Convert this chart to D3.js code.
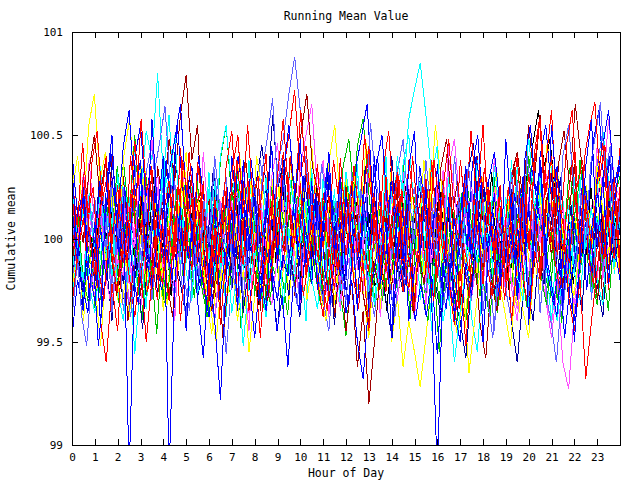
<!DOCTYPE html>
<html>
<head>
<meta charset="utf-8">
<script src="https://cdn.jsdelivr.net/npm/d3@7"></script>
<style>
  body { margin: 0; background: #fff; }
  text { font-family: "DejaVu Sans Mono", monospace; fill: #000; }
</style>
</head>
<body>
<div id="chart"></div>
<script>
// values are read off the picture as hundredths above/below the 100 baseline,
// spread evenly from hour 0 to hour 24 (about one every 15 minutes)
const BASE = 100;
const hourTicks = d3.range(0, 24);
const yTicks = [99, 99.5, 100, 100.5, 101];

const s01 = [22,-8,31,5,-17,14,40,-3,26,-12,9,47,18,-6,33,-20,11,28,-9,44,2,-15,37,13,-24,20,-4,35,52,8,-13,25,-7,16,41,-10,30,58,19,-2,27,-18,12,36,-5,21,-14,39,6,28,-9,17,45,-1,23,-16,10,32,-11,38,14,-7,29,3,-19,24,48,11,-4,34,-13,19,55,7,-8,26,-21,15,40,-2,31,12,-17,36,62,9,-6,22,43,-12,18,-3,27,46,4,-10,25];
const s02 = [-12,15,-28,-4,-35,8,-20,12,-31,-2,19,-15,-40,3,-22,10,-33,-9,24,-18,-6,-29,14,-38,-1,21,-13,-26,7,-44,-10,16,-23,5,-32,11,-17,-37,2,26,-8,-21,13,-30,-3,18,-25,-47,-11,9,-19,4,-34,-7,20,-14,-27,6,-39,0,15,-22,-5,-31,12,-16,-42,1,23,-9,-28,10,-18,-36,5,-24,14,-11,-33,-2,19,-15,-29,8,-41,-6,17,-20,3,-26,11,-13,-35,4,22];
const s03 = [35,-10,22,-30,8,-42,25,50,-5,18,-115,-15,30,-8,58,12,40,-115,-22,15,-45,6,-30,-58,-12,-40,-78,-20,14,-35,38,-6,24,-28,10,45,-15,30,55,20,48,-12,28,-25,5,42,-8,30,-18,12,-35,22,-5,40,-22,8,-48,15,-10,35,52,-8,25,-30,-115,-18,20,-40,10,35,-12,28,-50,-5,22,-20,48,12,-28,30,-42,5,38,-15,55,20,-32,8,-50,-10,35,58,-5,30,-22,15,40];
const s04 = [10,-15,28,-2,-30,14,-20,30,-8,22,-35,5,-18,26,-10,34,-25,8,-40,12,-5,31,-16,42,2,-22,18,-33,6,24,-12,-45,9,-26,20,-4,36,-14,27,-7,-32,15,-20,33,-1,-38,11,-24,29,-9,17,-28,38,-6,22,-17,4,35,-12,26,-30,7,-21,19,-3,33,-15,-36,10,-8,28,-24,16,-11,40,-2,-27,13,-19,21,-34,8,-12,-30,-48,-22,-60,-73,-35,-15,18,-8,32,-20,12,-5,25];
const s05 = [-18,10,-30,22,-5,35,-12,18,-25,30,8,45,20,52,38,80,30,60,10,-14,25,-28,6,-10,32,-20,14,-38,2,22,-15,38,-8,20,-32,12,-4,36,-18,28,-9,-40,16,-22,30,-6,24,-35,8,-16,33,-3,-26,18,-11,40,-20,6,27,-13,15,-30,4,-45,12,-8,30,-24,20,-2,-38,-55,-18,10,-28,22,-5,38,-15,14,-33,6,25,-10,-40,3,19,-22,30,-8,18,-27,11,-4,28,-17,9];
const s06 = [15,-10,32,4,-22,20,-8,40,12,30,-5,18,-28,8,-14,35,15,48,28,60,79,38,55,-2,20,-30,5,-18,28,-8,22,-25,10,-35,14,-12,30,-6,18,-28,6,35,-10,25,-20,4,-38,-12,-45,-20,-62,-35,-80,-50,-15,10,-25,32,-8,20,-30,14,-12,38,6,28,-18,10,-32,22,-5,40,-14,16,-26,8,-10,30,42,18,55,28,60,12,-8,20,-25,10,36,-5,24,-18,8,-30,15,-3,22];
const s07 = [-28,5,-40,-8,-20,-52,-12,15,-30,8,-38,-15,12,-25,22,-5,-35,6,-18,20,42,-8,25,-20,-35,4,-22,18,-10,-40,-15,-55,-28,10,-18,30,-5,20,-30,2,28,-12,45,10,-20,15,-32,-5,24,-14,8,-26,-48,-10,-35,12,-50,-28,-62,-40,-55,-72,-48,-20,8,-15,20,-30,-8,-38,5,-18,30,-2,22,-25,6,-12,28,-35,-48,-10,-25,18,-5,32,-18,10,-40,-12,20,-28,4,30,-8,14,-20];
const s08 = [8,-15,30,-2,20,-28,12,-36,5,25,-10,38,-20,14,-30,4,22,-8,28,-16,-40,10,-25,18,-6,40,12,30,-12,22,-30,6,28,-14,20,-5,35,48,70,88,62,35,12,-18,-30,8,-12,25,-20,32,-8,18,-38,5,-22,28,-10,35,2,-25,15,-6,38,10,-18,26,-30,12,-14,30,-2,20,-35,-8,-45,6,-18,32,-4,22,-28,12,-36,-5,18,-10,40,55,22,-3,25,-30,8,-15,28,-6,14];
const s09 = [-20,6,-35,18,-8,28,-12,-40,2,-22,20,-5,32,-15,10,-28,14,-6,42,16,-10,25,-30,4,-18,30,-8,22,-25,8,-36,-12,20,-4,28,-20,-45,-8,-28,12,-15,35,-2,18,-32,-10,-42,6,-20,26,-6,14,-30,2,20,-12,40,8,-18,24,-35,-8,16,-22,36,-4,12,-28,-40,-58,-20,-5,22,-12,30,-25,-2,-40,-60,-28,4,-14,25,-8,32,-18,6,-30,10,-12,24,-2,-22,-38,5,-16,12];
const s10 = [12,-8,-22,5,-12,25,-2,15,-20,-30,4,-15,22,-6,30,-18,8,-28,12,-5,28,-10,20,-16,6,-26,14,-8,24,-2,-20,10,-32,-6,18,-12,32,-4,15,-22,8,-14,26,2,20,-10,-28,6,-16,22,-4,12,-24,-8,-35,5,-18,30,-6,14,-20,4,-12,26,-2,18,-15,-30,2,-10,24,-6,32,-14,8,-26,12,-4,30,45,62,35,48,18,-5,14,-22,8,-15,25,-4,12,-20,6,18];
const s11 = [-32,-8,10,-25,-4,-40,-60,-22,-45,5,-18,-38,-12,-50,-20,15,-10,-30,8,-40,-5,20,-12,28,-22,5,-42,-8,15,-28,10,-35,-15,-48,-5,18,-12,32,50,72,30,45,8,-20,-38,-5,-25,20,-8,12,-30,-12,-45,10,-18,30,-5,18,-26,-8,-35,12,-15,38,2,22,-20,-42,-15,-52,-10,14,-22,25,-8,-30,4,-40,-12,20,-5,35,58,22,40,-8,10,-28,-45,-20,-68,-40,-15,12,-25,30,-10];
const s12 = [18,-5,32,-12,8,-30,-2,22,-18,38,10,50,5,30,-20,8,-30,25,-5,40,12,-15,28,-25,2,-12,38,55,18,32,-8,20,-28,12,-6,25,-15,-35,-8,-22,15,-2,32,-10,18,-25,4,-12,30,8,45,58,22,-5,15,-26,10,-4,36,-14,20,-8,-30,6,-18,26,-4,14,-28,-40,-10,-22,18,-6,30,-12,8,-25,12,-2,40,16,28,-14,5,-30,-8,22,-4,38,10,-18,-32,4,-12,20,30];
const s13 = [42,10,25,-15,-30,5,-20,28,8,45,62,20,38,-8,-25,5,-10,32,48,65,20,35,-5,-22,-38,-10,12,-15,40,8,22,-20,-48,-18,-35,10,-8,28,-12,20,-30,-5,-22,18,-4,32,-10,8,-36,-20,-50,-68,-30,-15,5,-8,30,-12,15,-40,-15,-2,20,-8,35,2,-20,-35,-50,-12,-28,12,-5,28,42,15,-10,20,-30,-2,15,-12,40,55,22,35,-10,-25,-40,-12,8,-18,30,45,62,25,40];
const s14 = [-10,12,-25,38,5,-18,20,-32,-5,15,-22,10,-35,-2,-28,12,-15,25,-8,42,15,28,-12,-28,-5,12,-20,24,-2,-30,6,-36,-10,20,-5,30,46,12,25,-15,-30,10,-12,22,-4,36,-8,-30,-5,18,-15,25,-20,12,-38,-8,20,-14,32,6,-20,12,-32,-4,22,-8,35,48,15,30,-12,8,-25,14,-10,25,-6,-20,-34,-8,20,-12,15,-28,-42,-15,-30,5,-18,28,-2,16,-20,10,-8,26,20];
const s15 = [28,-5,15,-22,-36,-8,14,-18,32,-2,20,-25,-8,-34,10,-15,36,22,50,8,-12,25,-28,6,-10,28,-15,-2,-36,-15,-52,-20,12,-8,30,-10,18,-34,5,-20,22,-4,34,-12,15,-30,10,-14,22,-5,36,-18,4,-32,-12,15,-2,40,20,58,72,85,60,30,45,-10,-30,10,-15,25,-8,38,-2,18,-30,-10,20,-12,35,8,50,15,30,-6,-25,-40,-15,5,-18,30,-5,15,-20,-32,10,-14,18];
const s16 = [-14,15,-2,32,50,20,38,-8,-28,5,-40,-15,10,-6,28,-8,15,-22,-38,2,-15,32,-4,15,-20,-35,-10,-48,-20,5,-12,40,12,28,-15,-30,-4,18,-8,38,20,52,70,35,22,-5,-30,4,-15,25,-8,12,-26,-42,-12,-25,16,-2,30,-10,15,-36,-8,-22,12,-5,35,48,12,28,-12,-28,-8,-42,-58,-20,-35,8,-12,36,10,-5,-30,12,-18,22,-6,36,52,25,65,40,14,-5,-30,5,-15,22,8];
const s17 = [22,40,10,55,70,28,42,-5,-20,-32,-8,22,-10,35,-5,18,-18,-32,8,-15,38,10,-4,20,-30,-46,-12,-25,15,-5,40,8,28,-14,-28,5,-12,26,-8,40,-2,22,-30,-12,10,-6,38,55,15,30,-10,-25,-5,-40,-15,18,-6,32,-8,15,-22,-35,2,-18,34,-4,16,-20,-32,-48,-25,-65,-40,-15,8,-10,32,-5,18,-22,-36,6,-18,20,-2,48,12,30,-12,-26,10,-8,26,-4,40,8,22,-15,-2];
const s18 = [-38,-10,-25,18,-2,30,8,-22,10,-35,-5,20,-8,32,46,12,25,-15,-28,5,-12,25,-10,10,-25,-40,-12,-56,-20,8,-10,24,-4,38,12,-16,-30,8,-12,24,-4,38,2,-15,-30,-45,-8,-25,14,-6,28,-8,-22,-38,-5,20,-10,32,48,12,25,-12,-26,10,-6,26,-10,40,8,-16,-30,5,-12,24,-5,12,-25,-40,-5,-20,18,-2,32,-5,16,-20,-35,-8,5,-15,22,-2,36,52,15,28,-10];
const s19 = [8,-12,-26,5,-10,28,-4,40,12,-16,5,-30,-12,-44,-8,-25,15,-5,28,-8,-22,-38,-5,-20,18,-2,32,-5,15,-20,-4,-18,14,-2,28,45,20,60,25,38,-8,-22,-38,-5,-18,20,-4,34,-2,18,-15,-32,8,-18,35,-5,18,-18,-32,-48,-12,-26,12,-8,28,-6,14,-22,-38,-8,-20,18,-5,32,46,10,25,-14,-28,5,-12,24,-10,10,-25,-40,-8,-22,16,-4,30,-6,16,-20,-35,6,-18,34,-2,20,-12,5];
const s20 = [30,5,46,12,25,-15,-30,4,-12,25,-8,40,15,58,22,35,-8,-22,5,-10,28,-6,42,12,22,-15,-28,5,-12,25,-6,38,12,55,20,30,-10,-25,-5,12,-8,40,22,62,30,15,-5,-20,-35,5,-15,20,-5,35,10,50,25,8,-10,-26,2,-15,24,-8,40,12,25,-15,-30,6,-12,22,-6,38,12,52,20,30,-12,-28,4,-10,25,-8,12,-22,-38,-6,-20,18,-2,32,10,46,62,25,38,-8,-22,4,-10,28,12,44];
const s21 = [-5,12,-20,-32,-8,-18,20,-4,35,10,-4,18,-18,-30,-12,-46,-5,-28,12,-8,26,-10,8,-24,-38,-4,-20,16,-3,30,12,-6,18,-20,-34,-8,-18,16,-2,30,14,-4,20,-16,-32,-5,18,-3,35,48,20,-5,12,-28,-12,-30,8,-14,22,6,-10,10,-25,-40,-10,-55,-20,5,-12,22,-5,12,-8,-24,-38,-4,-20,16,-2,30,12,-5,18,-18,-32,-6,20,-4,34,16,-2,18,-16,-30,-8,22,5,14];
const s22 = [-48,-20,-35,5,-10,28,8,42,20,-5,12,-18,-32,4,-12,22,-4,38,12,55,25,-10,10,-25,-8,-22,12,-5,25,-8,40,18,2,-15,-30,-5,-14,-45,-28,-62,-20,-35,8,-10,22,-5,34,18,-2,-18,-32,5,-12,20,-4,36,50,15,28,-10,-26,-5,-40,-22,-38,-18,-56,-12,-28,10,-8,25,-10,40,20,-4,15,-28,-12,5,-12,24,-5,35,18,2,-18,-32,-12,-48,-22,-8,10,-25,8,22,-10,40,20,35];
const s23 = [18,-2,32,12,-5,22,-20,-34,-10,-18,20,-4,35,12,48,22,5,-10,-25,8,-10,25,-5,12,-22,-38,-8,-20,18,-4,32,14,-2,18,-20,-32,-8,-16,20,-4,35,50,65,22,38,-4,-20,-34,-5,-18,18,-5,32,14,-2,18,-16,-30,-8,-24,-38,-4,20,-12,28,-5,45,22,-2,15,-28,-10,6,-12,25,-8,12,-24,-40,-6,-18,18,-2,32,12,-4,16,-18,-32,-5,20,-4,45,22,58,28,10];
const s24 = [-30,-5,-20,15,-5,25,-8,10,-25,-40,-10,-56,-20,-5,22,-2,38,10,-5,18,-16,-30,8,-10,24,-4,40,55,22,35,-8,-25,-5,-20,-38,-6,20,-4,32,12,-4,18,-20,-34,-8,-16,18,-5,32,14,-2,20,-18,-32,5,-12,24,-5,36,50,10,28,-12,-26,-5,-40,-25,-60,-35,-15,5,-12,20,-5,35,10,-4,18,-18,-30,5,-12,22,-5,35,12,-2,16,-16,-30,5,-12,22,52,28,10,-8];
const s25 = [38,12,25,-15,-30,5,-12,24,-5,40,58,20,35,-10,-25,-5,-20,15,-2,32,12,-4,18,-20,-34,-50,-15,-28,10,-8,25,-4,40,22,-5,15,-25,-10,5,-12,24,-5,10,-25,-40,-8,-22,15,-2,30,12,46,20,-4,12,-25,-10,5,-12,22,-4,38,12,55,28,-10,10,-25,-8,-22,12,-5,25,-8,-20,-35,-52,-20,-8,10,-6,26,-5,40,22,5,-12,-28,-5,20,-5,35,15,-12,18,-4];
const s26 = [-20,-5,-38,-52,-20,-8,12,-5,26,-8,12,-22,-38,-5,-18,20,-2,34,48,64,30,12,-5,-20,-35,-5,-18,18,-2,34,14,-4,18,-18,-32,-5,-16,20,-2,35,50,68,25,40,-5,-18,-32,-5,-14,22,-2,36,20,-4,18,-16,-30,-5,-14,24,8,56,30,15,-8,-22,-38,-10,-22,18,-2,32,12,-5,20,-18,-32,-8,-16,20,-2,36,12,-5,18,-30,-48,-25,-10,8,-12,28,-4,40,20,-6,12,-28,-42,-60,-30,-15,5,-14,22,-2,36,50,66,30,45,-5,18];
const s27 = [15,-10,-22,-36,-8,-52,-25,-10,10,-8,25,-5,40,55,20,35,-10,-25,-5,-20,12,-6,26,-4,40,20,-4,16,-30,-10,5,-12,22,-4,38,14,-2,18,-16,-30,-8,-18,15,-4,30,12,-2,18,-16,-32,-5,-18,20,-4,36,50,65,25,40,-5,-18,-34,-5,-14,20,-2,35,15,-2,18,-20,-34,-5,-16,20,-4,36,50,15,28,-10,-26,-4,-12,22,-6,40,55,22,35,-8,-22,-38,-10,-22,12,-4,32,14,48,62,25,40,-5,-20];
const s28 = [5,-12,22,-4,38,52,18,30,-10,-26,-5,-12,24,-8,10,-26,-12,-30,6,-12,24,-5,38,20,-4,16,-18,-32,-5,-14,20,-2,35,50,12,28,-10,-25,-5,-12,24,-5,42,22,-5,12,-28,-12,5,-10,22,-4,38,20,-2,16,-20,-34,-5,-16,22,-3,36,52,15,30,-8,-24,-5,-12,22,-4,38,18,-5,14,-18,-34,-5,-16,20,-4,34,15,-5,22,-30,-12,4,-10,26,-6,42,58,20,35,-10,-24,-4,-12,24,-6,40,55,66,30,45,-4,18,-16];

const allSeries = [s02,s04,s07,s09,s10,s12,s14,s05,s06,s17,s18,s19,s21,s23,s24,s25,s15,s16,s08,s13,s22,s27,s11,s20,s26,s28,s01,s03];

// gnuplot-ish line colours, one per entry in allSeries
const lineColors = [
  "#00c000","#ff50ff","#ffff00","#0000a0","#000000","#00c000","#ff50ff","#00ffff","#a00000","#ffff00",
  "#6060ff","#0000a0","#00c000","#ff50ff","#00ffff","#ffff00","#00ffff","#a00000","#6060ff","#0000ff",
  "#0000ff","#0000ff","#ff0000","#ff0000","#6060ff","#ff0000","#ff0000","#0000ff"
];

var margin = {top: 32, right: 20, bottom: 35, left: 72},
    width = 640 - margin.left - margin.right,
    height = 480 - margin.top - margin.bottom;

var x = d3.scaleLinear().domain([0, 24]).range([0, width]);
var y = d3.scaleLinear().domain([99, 101]).range([height, 0]);

var svg = d3.select("#chart").append("svg")
    .attr("width", 640)
    .attr("height", 480)
    .style("display", "block");

svg.append("rect").attr("width", 640).attr("height", 480).attr("fill", "#fff");

svg.append("defs").append("clipPath").attr("id", "plotclip")
  .append("rect").attr("width", width).attr("height", height);

var g = svg.append("g")
    .attr("transform", "translate(" + margin.left + "," + margin.top + ")");

// the lines (aliased, like the original png)
var plot = g.append("g").attr("clip-path", "url(#plotclip)");
allSeries.forEach(function(s, k) {
  var n = s.length;
  var line = d3.line()
      .x(function(d, i) { return x(i * 24 / (n - 1)); })
      .y(function(d) { return y(BASE + d / 100); });
  plot.append("path")
      .datum(s)
      .attr("fill", "none")
      .attr("stroke", lineColors[k])
      .attr("stroke-width", 1)
      .attr("shape-rendering", "crispEdges")
      .attr("d", line);
});

// frame
g.append("rect")
    .attr("x", 0.5).attr("y", 0.5)
    .attr("width", width).attr("height", height)
    .attr("fill", "none").attr("stroke", "#000")
    .attr("shape-rendering", "crispEdges");

function styleAxis(sel) {
  sel.select(".domain").remove();
  sel.selectAll("line").attr("stroke", "#000").attr("shape-rendering", "crispEdges");
  sel.selectAll("text").style("font-size", "11px").attr("fill", "#000");
}

// x axes (bottom with labels, top mirrored)
g.append("g")
    .attr("transform", "translate(0," + height + ")")
    .call(d3.axisBottom(x).tickValues(hourTicks).tickFormat(d3.format("d"))
      .tickSizeInner(-6).tickSizeOuter(0).tickPadding(8))
    .call(styleAxis);
g.append("g")
    .call(d3.axisTop(x).tickValues(hourTicks).tickFormat("")
      .tickSizeInner(-6).tickSizeOuter(0))
    .call(styleAxis);

// y axes (left with labels, right mirrored)
g.append("g")
    .call(d3.axisLeft(y).tickValues(yTicks).tickFormat(d3.format(""))
      .tickSizeInner(-6).tickSizeOuter(0).tickPadding(9))
    .call(styleAxis);
g.append("g")
    .attr("transform", "translate(" + width + ",0)")
    .call(d3.axisRight(y).tickValues(yTicks).tickFormat("")
      .tickSizeInner(-6).tickSizeOuter(0))
    .call(styleAxis);

// titles
svg.append("text")
    .attr("x", margin.left + width / 2).attr("y", 20)
    .attr("text-anchor", "middle").style("font-size", "11.5px")
    .text("Running Mean Value");
svg.append("text")
    .attr("x", margin.left + width / 2).attr("y", 477)
    .attr("text-anchor", "middle").style("font-size", "11.5px")
    .text("Hour of Day");
svg.append("text")
    .attr("transform", "translate(15," + (margin.top + height / 2) + ") rotate(-90)")
    .attr("text-anchor", "middle").style("font-size", "11.5px")
    .text("Cumulative mean");
</script>
</body>
</html>
